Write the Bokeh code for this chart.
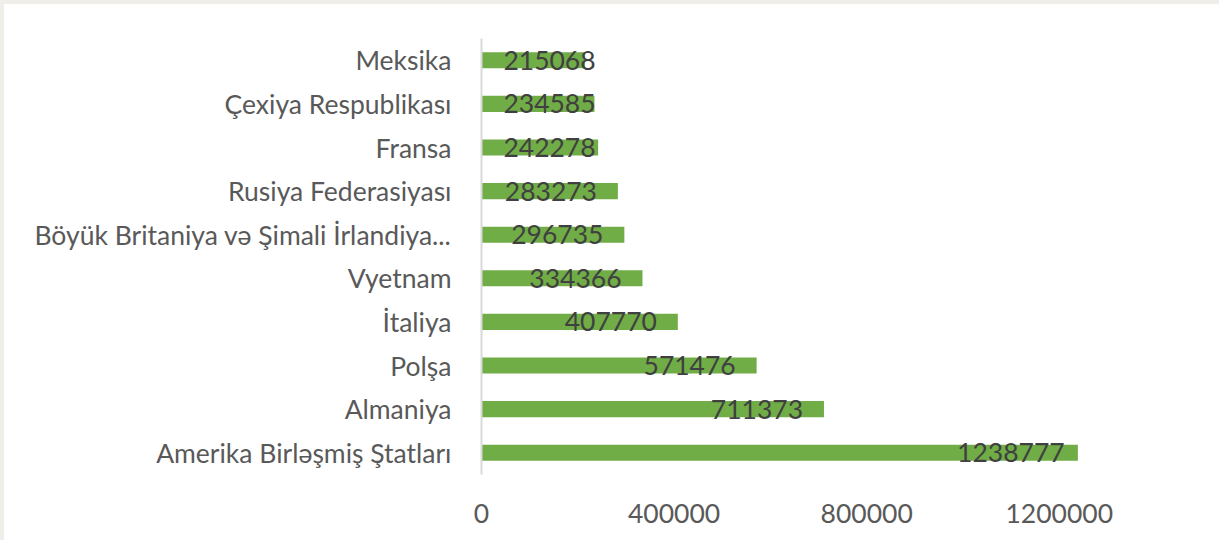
from bokeh.plotting import figure
from bokeh.models import ColumnDataSource, FixedTicker, NumeralTickFormatter, Range1d, FactorRange
from bokeh.core.properties import value
from bokeh.embed import file_html
from bokeh.resources import INLINE

countries = ["Meksika", "Çexiya Respublikası", "Fransa", "Rusiya Federasiyası",
             "Böyük Britaniya və Şimali İrlandiya...", "Vyetnam", "İtaliya", "Polşa",
             "Almaniya", "Amerika Birləşmiş Ştatları"]
values = [215068, 234585, 242278, 283273, 296735, 334366, 407770, 571476, 711373, 1238777]
x_ticks = [0, 400000, 800000, 1200000]

FONT = "Lato"
FS = "26.5px"
src = ColumnDataSource(dict(country=countries, val=values))

p = figure(width=1219, height=540, output_backend="svg", toolbar_location=None,
           y_range=FactorRange(factors=list(reversed(countries)), range_padding=0),
           x_range=Range1d(0, 1400000),
           min_border_left=477, min_border_right=68, min_border_top=34, min_border_bottom=70)
p.styles = {"border-top": "4px solid #efeee9", "border-left": "4px solid #efeee9"}
p.outline_line_color = None
p.background_fill_color = "white"
p.border_fill_color = "white"
p.xgrid.visible = False
p.ygrid.visible = False

p.hbar(y="country", right="val", left=0, height=0.37, source=src,
       fill_color="#70ad47", line_color=None)

long_src = ColumnDataSource(dict(country=[c for c, v in zip(countries, values) if v >= 280000],
                                 val=[v for v in values if v >= 280000],
                                 txt=[str(v) for v in values if v >= 280000]))
short_src = ColumnDataSource(dict(country=[c for c, v in zip(countries, values) if v < 280000],
                                  val=[0 for v in values if v < 280000],
                                  txt=[str(v) for v in values if v < 280000]))
p.text(x="val", y="country", text="txt", source=long_src, x_offset=-67,
       text_align="center", text_baseline="middle", text_color="#404040",
       text_font=value(FONT), text_font_size=FS)
p.text(x="val", y="country", text="txt", source=short_src, x_offset=68,
       text_align="center", text_baseline="middle", text_color="#404040",
       text_font=value(FONT), text_font_size=FS)

xa = p.xaxis[0]
xa.ticker = FixedTicker(ticks=x_ticks)
xa.formatter = NumeralTickFormatter(format="0")
xa.axis_line_color = None
xa.major_tick_line_color = None
xa.minor_tick_line_color = None
xa.major_label_standoff = 23
xa.major_label_text_font = FONT
xa.major_label_text_font_size = FS
xa.major_label_text_color = "#595959"

ya = p.yaxis[0]
ya.axis_line_color = "#d9d9d9"
ya.axis_line_width = 2
ya.major_tick_line_color = None
ya.minor_tick_line_color = None
ya.major_label_standoff = 24
ya.major_label_text_font = FONT
ya.major_label_text_font_size = FS
ya.major_label_text_color = "#595959"

open("out.html", "w").write(file_html(p, INLINE))
